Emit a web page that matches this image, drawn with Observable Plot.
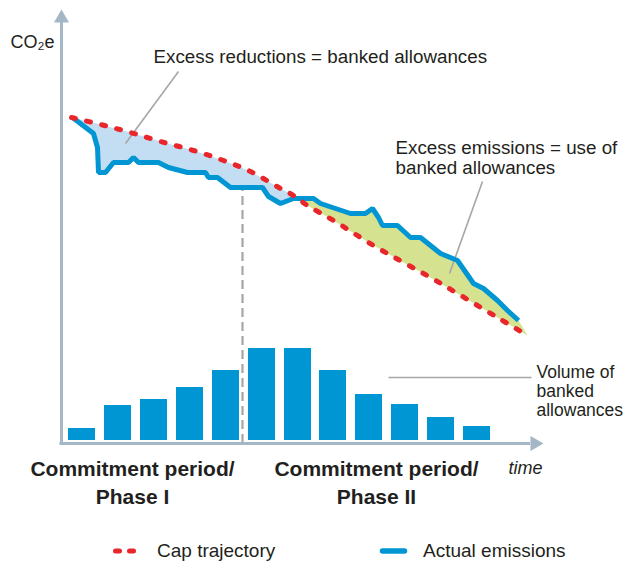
<!DOCTYPE html>
<html><head><meta charset="utf-8">
<script src="https://cdn.jsdelivr.net/npm/d3@7"></script>
<script src="https://cdn.jsdelivr.net/npm/@observablehq/plot@0.6"></script>
<style>
body{margin:0;background:#fff;font-family:"Liberation Sans",Arial,Helvetica,sans-serif;color:#231f20;}
#wrap{position:relative;width:629px;height:563px;overflow:hidden;}
#chart{position:absolute;left:0;top:0;}
.sw{position:absolute;}
.lt{position:absolute;font-size:19px;line-height:20px;white-space:nowrap;}
</style></head><body>
<div id="wrap"><div id="chart"></div>
<svg class="sw" style="left:108px;top:541px" width="36" height="20"><line x1="7.5" y1="10" x2="27.5" y2="10" stroke="#e8262b" stroke-width="5" stroke-dasharray="4,10" stroke-linecap="round"/></svg>
<div class="lt" style="left:157px;top:541px">Cap trajectory</div>
<svg class="sw" style="left:376px;top:541px" width="36" height="20"><line x1="6.5" y1="10" x2="28.5" y2="10" stroke="#0095d3" stroke-width="5.5" stroke-linecap="round"/></svg>
<div class="lt" style="left:423px;top:541px">Actual emissions</div>
</div>
<script>
// ---- values (time t, CO2e level v; abstract units) ----
const capT = [10, 39, 69, 99, 132, 162, 189, 219, 232, 246, 272, 312, 342, 369, 396, 436, 466];
const capV = [326, 319, 311, 302, 293, 283, 272, 255, 248, 238, 223, 198, 181, 166, 150, 126, 108];

const actualT = [11, 32, 36, 37, 44, 52, 67, 72, 77, 97, 107, 126, 144, 147, 156, 169, 201, 207, 219, 232, 252, 259, 289, 304, 311, 317, 321, 336, 349, 359, 379, 396, 412, 422, 436, 446, 457];
const actualV = [326, 310, 296, 271, 271, 281, 281, 286, 281, 281, 276, 271, 271, 266, 266, 256, 256, 247, 240, 245, 245, 240, 230, 230, 235, 226, 218, 218, 206, 206, 190, 183, 160, 155, 143, 133, 123];

const crossT = 236, crossV = 245;      // where actual emissions rise above the cap
const phaseSplitT = 181;               // end of Phase I

const bankStart = [7, 43, 79, 115, 151, 187, 223, 258, 294, 330, 366, 402];
const bankVolume = [12, 35, 41, 53, 70, 92, 92, 70, 46, 36, 23, 14];
const barWidth = 27, barBase = 3;

const phaseLabels = ["Commitment period/\nPhase I", "Commitment period/\nPhase II"];
const phaseCenterT = [71, 315];

const axisMaxT = 482, axisMaxV = 434;

// ---- tables built from the arrays ----
const cap = capT.map((t, i) => ({t, v: capV[i]}));
const actual = actualT.map((t, i) => ({t, v: actualV[i]}));
const cross = {t: crossT, v: crossV};
const bluePoly = [...actual.filter(d => d.t < crossT), cross, ...cap.filter(d => d.t < crossT).reverse()];
const greenPoly = [cross, ...actual.filter(d => d.t > crossT), ...cap.filter(d => d.t > crossT).reverse()];
const bars = bankStart.map((s, i) => ({x1: s, x2: s + barWidth, y1: barBase, y2: barBase + bankVolume[i]}));
const phases = phaseLabels.map((label, i) => ({label, t: phaseCenterT[i]}));

const axisC = "#a3b7c6", grey = "#a6a6a6", ink = "#231f20";
const blue = "#0095d3", red = "#e8262b";
const font = "'Liberation Sans', Arial, Helvetica, sans-serif";

const chart = Plot.plot({
  width: 629, height: 520,
  marginLeft: 61, marginRight: 86, marginTop: 9, marginBottom: 77,
  x: {domain: [0, axisMaxT], axis: null},
  y: {domain: [0, axisMaxV], axis: null},
  style: {fontFamily: font, color: ink, background: "#fff", overflow: "visible"},
  marks: [
    // shaded differences
    Plot.line(bluePoly, {x: "t", y: "v", fill: "#c3def2", stroke: "none"}),
    Plot.line(greenPoly, {x: "t", y: "v", fill: "#d5e390", stroke: "none"}),
    // banked allowance bars
    Plot.rect(bars, {x1: "x1", x2: "x2", y1: "y1", y2: "y2", fill: blue}),
    // phase divider
    Plot.ruleX([phaseSplitT], {y1: 0, y2: 253, stroke: grey, strokeWidth: 2.2, strokeDasharray: "9,5"}),
    // leader lines
    Plot.link([{x1: 117, y1: 372, x2: 64, y2: 300}], {x1: "x1", y1: "y1", x2: "x2", y2: "y2", stroke: grey, strokeWidth: 1.6}),
    Plot.link([{x1: 421, y1: 262, x2: 388, y2: 170}], {x1: "x1", y1: "y1", x2: "x2", y2: "y2", stroke: grey, strokeWidth: 1.6}),
    Plot.link([{x1: 327, y1: 66, x2: 470, y2: 66}], {x1: "x1", y1: "y1", x2: "x2", y2: "y2", stroke: grey, strokeWidth: 1.6}),
    // actual emissions
    Plot.line(actual, {x: "t", y: "v", stroke: blue, strokeWidth: 5, strokeLinejoin: "miter", strokeLinecap: "butt"}),
    // cap trajectory
    Plot.line(cap, {x: "t", y: "v", curve: "catmull-rom", stroke: red, strokeWidth: 5, strokeDasharray: "4,11.5", strokeLinecap: "round"}),
    // axes with arrow heads
    Plot.ruleX([0], {y1: -1.5, y2: 421, stroke: axisC, strokeWidth: 3}),
    Plot.ruleY([0], {x1: -1.5, x2: 469, stroke: axisC, strokeWidth: 3}),
    Plot.dot([{t: 0, v: 425.3}], {x: "t", y: "v", symbol: "triangle", r: 5.6, fill: axisC, stroke: "none"}),
    Plot.dot([{t: 473.3, v: 0}], {x: "t", y: "v", symbol: "triangle", r: 5.6, fill: axisC, stroke: "none", rotate: 90}),
    // texts
    Plot.text([{s: "CO₂e", t: -51, v: 396}], {x: "t", y: "v", text: "s", textAnchor: "start", lineAnchor: "bottom", fontSize: 18, fill: ink}),
    Plot.text([{s: "Excess reductions = banked allowances", t: 92, v: 381}], {x: "t", y: "v", text: "s", textAnchor: "start", lineAnchor: "bottom", fontSize: 18.8, fill: ink}),
    Plot.text([{s: "Excess emissions = use of\nbanked allowances", t: 334, v: 270}], {x: "t", y: "v", text: "s", textAnchor: "start", lineAnchor: "bottom", fontSize: 18.8, lineHeight: 1.064, fill: ink}),
    Plot.text([{s: "Volume of\nbanked\nallowances", t: 475, v: 28}], {x: "t", y: "v", text: "s", textAnchor: "start", lineAnchor: "bottom", fontSize: 17.5, lineHeight: 1.07, fill: ink}),
    Plot.text(phases, {x: "t", y: -60, text: "label", textAnchor: "middle", lineAnchor: "bottom", fontSize: 21, fontWeight: "bold", lineHeight: 1.29, fill: ink}),
    Plot.text([{s: "time", t: 447, v: -30}], {x: "t", y: "v", text: "s", textAnchor: "start", lineAnchor: "bottom", fontSize: 18, fontStyle: "italic", fill: ink})
  ]
});
document.getElementById("chart").appendChild(chart);
</script>
</body></html>
